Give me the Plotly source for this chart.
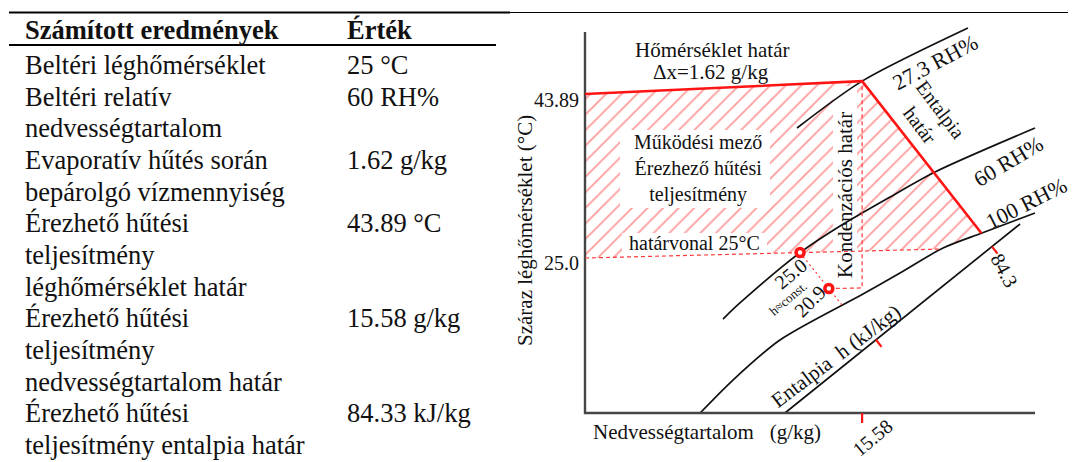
import numpy as np
import plotly.graph_objects as go

W, H = 1072, 462
SERIF = "Liberation Serif, Times New Roman, serif"
INK = "#111111"
RED = "#ff1414"
RED_LIGHT = "#ff3a3a"
AXIS_GREY = "#454545"

# ---------------- results table ----------------
TABLE_HEADER = ("Számított eredmények", "Érték")
TABLE_LABELS = [
    ["Beltéri léghőmérséklet"],
    ["Beltéri relatív", "nedvességtartalom"],
    ["Evaporatív hűtés során", "bepárolgó vízmennyiség"],
    ["Érezhető hűtési", "teljesítmény", "léghőmérséklet határ"],
    ["Érezhető hűtési", "teljesítmény", "nedvességtartalom határ"],
    ["Érezhető hűtési", "teljesítmény entalpia határ"],
]
TABLE_VALUES = ["25 °C", "60 RH%", "1.62 g/kg", "43.89 °C", "15.58 g/kg", "84.33 kJ/kg"]

# ---------------- psychrometric sketch ----------------
# x = moisture content (g/kg), y = dry-bulb temperature (°C) on a skewed chart
X_MAX = 25.3
Y_MIN, Y_MAX = 7.15, 51.03
T_LIMIT, T_INDOOR, T_EVAP = 43.89, 25.0, 20.9
ISO_TILT = {T_LIMIT: 0.095, T_INDOOR: 0.0515, T_EVAP: 0.042}  # isotherm drift per g/kg
X_INDOOR = 12.09
DX_EVAP = 1.62
X_LIMIT = 15.58
H_LIMIT = 84.3

H_AXIS_X = [11.24, 24.46]
H_AXIS_Y = [7.15, 28.92]
H_TICK_X = [16.36, 22.88]

RH_NAMES = ["27.3 RH%", "60 RH%", "100 RH%"]
RH27_X = [11.92, 15.58, 21.53]
RH27_Y = [39.97, 45.37, 51.49]
RH60_X = [7.76, 8.71, 12.09, 14.34, 17.15, 19.68, 25.30]
RH60_Y = [17.97, 19.82, 25.62, 28.69, 32.03, 34.91, 39.97]
RH100_X = [6.47, 8.32, 10.96, 15.63, 17.71, 20.13, 22.32, 25.30]
RH100_Y = [7.15, 10.95, 15.56, 20.85, 23.27, 26.15, 27.88, 30.18]

# chart frame placement on the page (pixels)
FR_LEFT, FR_RIGHT, FR_TOP, FR_BOTTOM = 585, 1035, 32, 413
SX = (FR_RIGHT - FR_LEFT) / X_MAX
SY = (FR_BOTTOM - FR_TOP) / (Y_MAX - Y_MIN)
X_RANGE = [-FR_LEFT / SX, (W - FR_LEFT) / SX]
Y_RANGE = [Y_MIN - (H - FR_BOTTOM) / SY, Y_MAX + FR_TOP / SY]


def page_to_data(px, py):
    return X_RANGE[0] + px / SX, Y_RANGE[1] - py / SY


def iso(t, x):
    return t + ISO_TILT[t] * np.asarray(x, dtype=float)


def rh100(x):
    return np.interp(x, RH100_X, RH100_Y)


def meet_saturation(px, py):
    """First point where a sampled path crosses the 100 RH% curve."""
    d = np.asarray(py) - rh100(px)
    i = np.where(np.sign(d[:-1]) != np.sign(d[1:]))[0][0]
    f = d[i] / (d[i] - d[i + 1])
    return px[i] + f * (px[i + 1] - px[i]), py[i] + f * (py[i + 1] - py[i])


apex = (X_LIMIT, float(iso(T_LIMIT, X_LIMIT)))
h_end = (H_TICK_X[1], float(np.interp(H_TICK_X[1], H_AXIS_X, H_AXIS_Y)))

t = np.linspace(0, 1, 4001)
bx = apex[0] + t * (h_end[0] - apex[0])
by = apex[1] + t * (h_end[1] - apex[1])
border_end = meet_saturation(bx, by)

xs = np.linspace(0, X_MAX, 6001)
base_end = meet_saturation(xs, iso(T_INDOOR, xs))

mid = [(x, y) for x, y in zip(RH100_X, RH100_Y) if base_end[0] < x < border_end[0]]
poly_x = [0, apex[0], border_end[0]] + [p[0] for p in reversed(mid)] + [base_end[0], 0]
poly_y = [T_LIMIT, apex[1], border_end[1]] + [p[1] for p in reversed(mid)] + [base_end[1], T_INDOOR]

dots_x = [X_INDOOR, X_INDOOR + DX_EVAP]
dots_y = [float(iso(T_INDOOR, dots_x[0])), float(iso(T_EVAP, dots_x[1]))]

s = np.linspace(0, 4, 4001)
hx = dots_x[0] + s * (dots_x[1] - dots_x[0])
hy = dots_y[0] + s * (dots_y[1] - dots_y[0])
hc_end = meet_saturation(hx, hy)

# tick direction follows the enthalpy limit line, fixed length in pixels
dxp, dyp = (h_end[0] - apex[0]) * SX, (h_end[1] - apex[1]) * SY
plen = np.hypot(dxp, dyp)
TICK_PX = 9
tdx = (h_end[0] - apex[0]) * TICK_PX / plen
tdy = (h_end[1] - apex[1]) * TICK_PX / plen

fig = go.Figure()

# operating field (hatched)
fig.add_trace(go.Scatter(
    x=poly_x, y=poly_y, mode="lines", fill="toself",
    fillcolor="rgba(0,0,0,0)", line=dict(width=0),
    fillpattern=dict(shape="/", fgcolor=RED_LIGHT, size=11, solidity=0.17),
    hoverinfo="skip"))

# white panels keeping the labels inside the field readable (page pixels)
LABEL_PANELS = [(620, 130, 770, 208), (622, 233, 767, 257), (833, 86, 857, 284)]
for x0p, y0p, x1p, y1p in LABEL_PANELS:
    ax0, ay0 = page_to_data(x0p, y0p)
    ax1, ay1 = page_to_data(x1p, y1p)
    fig.add_trace(go.Scatter(x=[ax0, ax1, ax1, ax0, ax0], y=[ay0, ay0, ay1, ay1, ay0],
                             mode="lines", fill="toself", fillcolor="white",
                             line=dict(width=0), hoverinfo="skip"))

# humidity curves and enthalpy scale
for cx, cy in [(RH27_X, RH27_Y), (RH60_X, RH60_Y), (RH100_X, RH100_Y)]:
    fig.add_trace(go.Scatter(x=cx, y=cy, mode="lines",
                             line=dict(color=INK, width=1.7, shape="spline", smoothing=0.8),
                             hoverinfo="skip"))
fig.add_trace(go.Scatter(x=H_AXIS_X, y=H_AXIS_Y, mode="lines",
                         line=dict(color=INK, width=1.7), hoverinfo="skip"))

# chart frame
fig.add_trace(go.Scatter(x=[0, 0, X_MAX], y=[Y_MAX, Y_MIN, Y_MIN], mode="lines",
                         line=dict(color=AXIS_GREY, width=2.4), hoverinfo="skip"))

# dashed guide lines
dash = dict(color=RED_LIGHT, width=1.2, dash="4px,3px")
fig.add_trace(go.Scatter(x=[0, base_end[0]], y=[T_INDOOR, base_end[1]], mode="lines",
                         line=dash, hoverinfo="skip"))
x20 = [dots_x[1], X_LIMIT]
fig.add_trace(go.Scatter(x=x20 + [X_LIMIT], y=list(iso(T_EVAP, x20)) + [apex[1]],
                         mode="lines", line=dash, hoverinfo="skip"))
fig.add_trace(go.Scatter(x=[dots_x[0], hc_end[0]], y=[dots_y[0], hc_end[1]], mode="lines",
                         line=dict(color=RED_LIGHT, width=1.2, dash="2px,3px"), hoverinfo="skip"))

# limit lines
fig.add_trace(go.Scatter(x=[0, apex[0], border_end[0]], y=[T_LIMIT, apex[1], border_end[1]],
                         mode="lines", line=dict(color=RED, width=2.6), hoverinfo="skip"))

# red ticks
ticks_x, ticks_y = [X_LIMIT, X_LIMIT, None], [Y_MIN, Y_MIN - 10 / SY, None]
for hx0 in H_TICK_X:
    hy0 = float(np.interp(hx0, H_AXIS_X, H_AXIS_Y))
    ticks_x += [hx0, hx0 + tdx, None]
    ticks_y += [hy0, hy0 + tdy, None]
fig.add_trace(go.Scatter(x=ticks_x, y=ticks_y, mode="lines",
                         line=dict(color=RED, width=2.2), hoverinfo="skip"))

# state points
fig.add_trace(go.Scatter(x=dots_x, y=dots_y, mode="markers",
                         marker=dict(symbol="circle", size=8, color="white",
                                     line=dict(color=RED, width=3.5)),
                         hoverinfo="skip"))


def note(text, px, py, size=20, angle=0, xanchor="center", bold=False):
    fig.add_annotation(text=f"<b>{text}</b>" if bold else text,
                       x=px / W, y=1 - py / H, xref="paper", yref="paper",
                       showarrow=False, textangle=angle, xanchor=xanchor, yanchor="middle",
                       font=dict(family=SERIF, size=size, color=INK))


def data_note(text, x, y, dx=0, dy=0, size=20, angle=0, xanchor="center"):
    fig.add_annotation(text=text, x=x, y=y, xref="x", yref="y", showarrow=False,
                       textangle=angle, xanchor=xanchor, yanchor="middle",
                       xshift=dx, yshift=dy, font=dict(family=SERIF, size=size, color=INK))


# table
TX_LABEL, TX_VALUE = 23, 345
note(TABLE_HEADER[0], TX_LABEL, 30, size=26.5, xanchor="left", bold=True)
note(TABLE_HEADER[1], TX_VALUE, 30, size=26.5, xanchor="left", bold=True)
row_y, step = 65.0, 31.67
for lines, value in zip(TABLE_LABELS, TABLE_VALUES):
    note(value, TX_VALUE, row_y, size=26.5, xanchor="left")
    for ln in lines:
        note(ln, TX_LABEL, row_y, size=26.5, xanchor="left")
        row_y += step

fig.add_shape(type="line", xref="paper", yref="paper", x0=9 / W, x1=510 / W,
              y0=1 - 12.5 / H, y1=1 - 12.5 / H, line=dict(color="black", width=2))
fig.add_shape(type="line", xref="paper", yref="paper", x0=510 / W, x1=1068 / W,
              y0=1 - 12.5 / H, y1=1 - 12.5 / H, line=dict(color="black", width=1))
fig.add_shape(type="line", xref="paper", yref="paper", x0=9 / W, x1=496 / W,
              y0=1 - 45 / H, y1=1 - 45 / H, line=dict(color="black", width=2))

# chart annotations
data_note(f"{T_LIMIT:.2f}", 0, T_LIMIT, dx=-4, dy=-6, xanchor="right")
data_note(f"{T_INDOOR:.1f}", 0, T_INDOOR, dx=-4, dy=-5, xanchor="right")
data_note(f"{X_LIMIT:.2f}", X_LIMIT, Y_MIN, dx=10, dy=-25, angle=-40)
data_note(f"{H_LIMIT}", h_end[0], h_end[1], dx=13, dy=-24, angle=62)
data_note(f"{T_INDOOR:.1f}", dots_x[0], dots_y[0], dx=-10, dy=-21, angle=-40)
data_note("h≈const.", dots_x[0], dots_y[0], dx=-12, dy=-46, size=13, angle=-40)
data_note(f"{T_EVAP}", dots_x[1], dots_y[1], dx=-19, dy=-12, angle=-45)

note("Hőmérséklet határ", 712, 50, size=21)
note(f"Δx={DX_EVAP} g/kg", 711, 72, size=21)
note(RH_NAMES[0], 935, 63, size=22, angle=-28)
note(RH_NAMES[1], 1008, 161, size=22, angle=-31)
note(RH_NAMES[2], 1026, 204, size=22, angle=-27)
note("Entalpia<br>határ", 930, 117, size=20, angle=53)
note("Működési mező<br>Érezhező hűtési<br>teljesítmény", 698, 168, size=20)
note("határvonal 25°C", 694, 243, size=20)
note("Kondenzációs határ", 845, 195, size=21, angle=-90)
note("Entalpia\u00a0\u00a0h (kJ/kg)", 836, 356, size=21, angle=-37)
note("Nedvességtartalom\u00a0\u00a0\u00a0(g/kg)", 707, 432, size=21)
note("Száraz léghőmérséklet (°C)", 525, 231, size=21, angle=-90)

fig.update_layout(
    width=W, height=H, margin=dict(l=0, r=0, t=0, b=0),
    paper_bgcolor="white", plot_bgcolor="white", showlegend=False,
    xaxis=dict(range=X_RANGE, visible=False, fixedrange=True),
    yaxis=dict(range=Y_RANGE, visible=False, fixedrange=True),
)

fig.write_html("out.html")
